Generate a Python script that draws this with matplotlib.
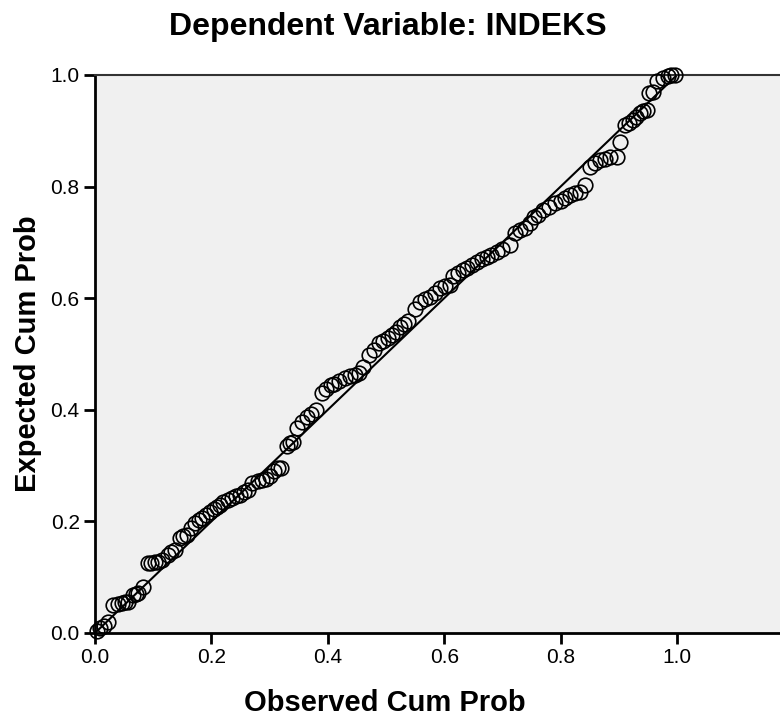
import matplotlib
matplotlib.use("Agg")
import matplotlib.pyplot as plt

# observed vs expected cumulative probability
obs_cum = [0.003, 0.009, 0.015, 0.022, 0.031, 0.040, 0.046, 0.052, 0.057, 0.065,
           0.070, 0.074, 0.082, 0.091, 0.097, 0.103, 0.109, 0.115, 0.125, 0.131,
           0.137, 0.146, 0.152, 0.158, 0.165, 0.172, 0.178, 0.184, 0.191, 0.198,
           0.204, 0.210, 0.215, 0.220, 0.228, 0.235, 0.242, 0.249, 0.256, 0.263,
           0.270, 0.280, 0.287, 0.293, 0.300, 0.308, 0.315, 0.320, 0.330, 0.335,
           0.341, 0.347, 0.355, 0.364, 0.372, 0.380, 0.390, 0.397, 0.405, 0.410,
           0.420, 0.430, 0.438, 0.446, 0.453, 0.460, 0.470, 0.480, 0.488, 0.495,
           0.503, 0.510, 0.517, 0.524, 0.531, 0.538, 0.550, 0.558, 0.567, 0.576,
           0.584, 0.593, 0.601, 0.610, 0.615, 0.624, 0.632, 0.640, 0.648, 0.656,
           0.665, 0.673, 0.681, 0.690, 0.700, 0.713, 0.722, 0.730, 0.738, 0.747,
           0.755, 0.762, 0.770, 0.780, 0.790, 0.800, 0.808, 0.816, 0.825, 0.833,
           0.842, 0.850, 0.859, 0.868, 0.876, 0.885, 0.897, 0.902, 0.910, 0.917,
           0.924, 0.930, 0.936, 0.942, 0.948, 0.952, 0.959, 0.966, 0.976, 0.984,
           0.990, 0.997]
exp_cum = [0.004, 0.009, 0.013, 0.020, 0.050, 0.052, 0.054, 0.055, 0.056, 0.068,
           0.070, 0.072, 0.082, 0.125, 0.126, 0.127, 0.128, 0.130, 0.140, 0.145,
           0.149, 0.170, 0.173, 0.176, 0.188, 0.197, 0.202, 0.206, 0.212, 0.217,
           0.222, 0.226, 0.230, 0.235, 0.239, 0.242, 0.245, 0.247, 0.252, 0.256,
           0.268, 0.272, 0.274, 0.276, 0.282, 0.290, 0.295, 0.296, 0.335, 0.340,
           0.342, 0.367, 0.378, 0.387, 0.393, 0.400, 0.430, 0.437, 0.444, 0.447,
           0.452, 0.457, 0.460, 0.463, 0.466, 0.477, 0.498, 0.508, 0.520, 0.524,
           0.528, 0.534, 0.540, 0.548, 0.554, 0.560, 0.580, 0.593, 0.598, 0.602,
           0.610, 0.618, 0.621, 0.624, 0.640, 0.645, 0.650, 0.655, 0.660, 0.665,
           0.670, 0.674, 0.678, 0.683, 0.688, 0.695, 0.717, 0.722, 0.726, 0.735,
           0.745, 0.750, 0.758, 0.764, 0.770, 0.775, 0.780, 0.785, 0.788, 0.790,
           0.803, 0.835, 0.843, 0.848, 0.850, 0.853, 0.853, 0.880, 0.910, 0.914,
           0.919, 0.925, 0.932, 0.935, 0.937, 0.968, 0.970, 0.990, 0.995, 0.998,
           1.000, 1.000]

ticks = [0.0, 0.2, 0.4, 0.6, 0.8, 1.0]
tick_labels = ["0.0", "0.2", "0.4", "0.6", "0.8", "1.0"]

sans = ["Liberation Sans", "DejaVu Sans"]

fig = plt.figure(figsize=(7.8, 7.19), dpi=100)
ax = fig.add_axes([95 / 780, 1 - 633 / 719, 1 - 95 / 780, (633 - 75) / 719])
ax.set_facecolor("#f0f0f0")

ax.plot([0, 1], [0, 1], color="black", linewidth=1.5, zorder=2)
ax.plot(obs_cum, exp_cum, linestyle="none", marker="o", markersize=10.5,
        markerfacecolor="none", markeredgecolor="black", markeredgewidth=1.2,
        clip_on=False, zorder=3)

ax.set_xlim(0, 1.177)
ax.set_ylim(0, 1.0)
ax.set_xticks(ticks)
ax.set_xticklabels(tick_labels, family=sans, fontsize=15)
ax.set_yticks(ticks)
ax.set_yticklabels(tick_labels, family=sans, fontsize=15)
ax.tick_params(direction="out", length=8, width=2, pad=3)

for side in ["left", "bottom"]:
    ax.spines[side].set_linewidth(2)
    ax.spines[side].set_color("black")
ax.spines["top"].set_linewidth(1.5)
ax.spines["top"].set_color("#333333")
ax.spines["right"].set_visible(False)

fig.text(385 / 780, 1 - 703 / 719, "Observed Cum Prob", ha="center", va="center",
         family=sans, fontweight="bold", fontsize=21)
ax.set_ylabel("Expected Cum Prob", family=sans, fontweight="bold", fontsize=21, labelpad=6)
fig.text(388 / 780, 1 - 27 / 719, "Dependent Variable: INDEKS", ha="center", va="center",
         family=sans, fontweight="bold", fontsize=23)

fig.savefig("out.png", dpi=100)
